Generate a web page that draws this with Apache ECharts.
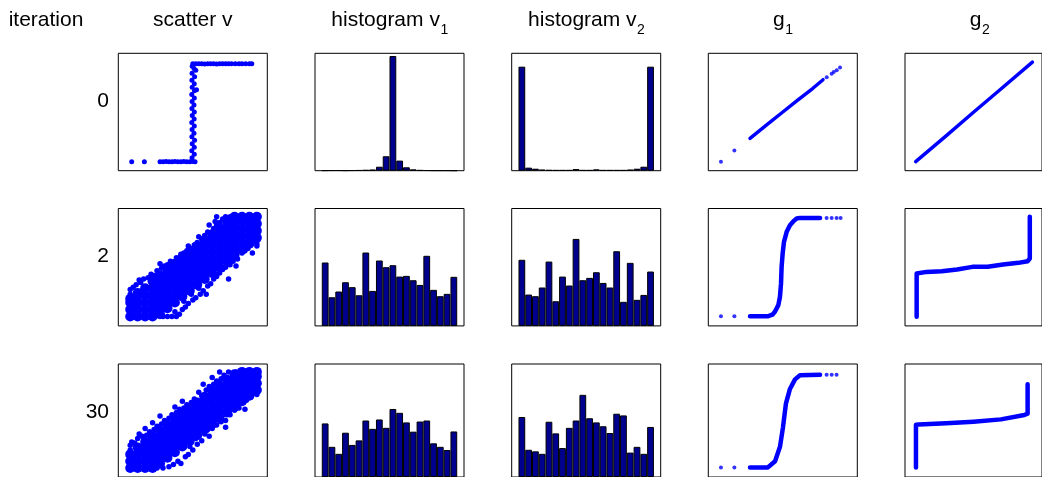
<!DOCTYPE html>
<html><head><meta charset="utf-8">
<script src="https://cdn.jsdelivr.net/npm/echarts@6/dist/echarts.min.js"></script>
<style>html,body{margin:0;padding:0;background:#fff}#c{width:1042px;height:477px}</style>
</head><body><div id="c"></div>
<script>
// ---------------- DATA ----------------
const columnTitles = [['scatter v',''],['histogram v','1'],['histogram v','2'],['g','1'],['g','2']];
const rowLabel = 'iteration';
const iterations = ['0','2','30'];
// histogram slots: one empty slot each side, 20 bins
const binLabels = ['', 'b1','b2','b3','b4','b5','b6','b7','b8','b9','b10','b11','b12','b13','b14','b15','b16','b17','b18','b19','b20', ''];

// scatter v (normalised panel units 0..100)
const scatterV_it0 = [
 [9,7.7],[17.5,7.7],
 [28,7.7],[30,7.7],[32,7.9],[34,7.7],[36,7.6],[38,7.8],[40,7.7],[42,7.7],[44,7.9],[46,7.7],[48,7.6],[50,7.8],[51.5,7.7],
 [49.5,11],[51,14],[49.3,17],[51,20],[49.6,23],[51.2,26],[49.4,29],[50.8,32],[49.5,35],[51,38],[49.3,41],[50.9,44],[49.6,47],
 [51,50],[49.4,53],[50.8,56],[49.5,59],[51,62],[49.3,65],[51.1,68],[52.5,69],[49.6,71],[51,74],[49.4,77],[51.2,80],[49.5,83],
 [52,85.5],[50.8,87],[49.6,89],
 [50,91],[52,91],[54,91.2],[56,91],[58,90.8],[60,91],[62,91.1],[64,91],[66,90.9],[68,91],[70,91.1],[72,91],[74,91],[76,91],
 [78.5,91],[81,91],[83,91],[85.5,91],[88,91],[89.6,91]
];
// iteration 2: dense core of the cloud and its scattered fringe
const scatterV_it2_core = [
 [8,8],[8,14],[8,20],[8,23],
 [13,8],[13,14],[13,20],[13,26],[13,28],
 [18,8],[18,14],[18,20],[18,26],[18,32],
 [23,8],[23,14],[23,20],[23,26],[23,32],[23,38],
 [28,10],[28,16],[28,22],[28,28],[28,34],[28,40],[28,43],
 [33,15],[33,21],[33,27],[33,33],[33,39],[33,45],[33,48],
 [38,20],[38,26],[38,32],[38,38],[38,44],[38,50],[38,53],
 [43,25],[43,31],[43,37],[43,43],[43,49],[43,55],[43,58],
 [48,30],[48,36],[48,42],[48,48],[48,54],[48,60],[48,63],
 [53,35],[53,41],[53,47],[53,53],[53,59],[53,65],[53,68],
 [58,40],[58,46],[58,52],[58,58],[58,64],[58,70],[58,73],
 [63,45],[63,51],[63,57],[63,63],[63,69],[63,75],[63,78],
 [68,50],[68,56],[68,62],[68,68],[68,74],[68,80],[68,83],
 [73,55],[73,61],[73,67],[73,73],[73,79],[73,85],[73,88],
 [78,60],[78,66],[78,72],[78,78],[78,84],[78,90],[78,93],
 [83,65],[83,71],[83,77],[83,83],[83,89],[83,93],
 [88,70],[88,76],[88,82],[88,88],[88,93],
 [93,75],[93,81],[93,87],[93,93]
];
const scatterV_it2_edge = [
 [8,27],[8,31],[10,33],[12,35],[15,37],[17,40],[14,39],[20,41],[22,44],[24,43],[26,47],[29,49],[31,51],[28,53],
 [33,52],[35,55],[37,54],[39,58],[41,57],[42,61],[44,62],[46,64],[47,68],[49,66],[51,69],[53,71],[54,76],[56,74],
 [58,77],[60,80],[62,79],[61,86],[64,83],[66,86],[65,89],[68,88],[70,91],[72,93],[66,93],[75,93],[80,93],[85,93],[90,93],
 [30,8],[33,8],[36,8],[39,8],[41,10],[38,12],[43,14],[45,16],[47,19],[44,21],[50,22],[52,24],[49,27],[55,27],
 [57,30],[54,32],[59,27],[60,34],[62,36],[64,40],[66,42],[68,45],[70,48],[72,50],[74,40],[75,52],[77,55],[80,57],
 [79,51],[83,62],[85,64],[87,66],[90,62],[89,70],[92,72],[93,68],[93,70]
];
// iteration 30
const scatterV_it30_core = [
 [8,8],[8,14],[8,20],
 [13,8],[13,14],[13,20],[13,26],
 [18,8],[18,14],[18,20],[18,26],[18,31],
 [23,8],[23,14],[23,20],[23,26],[23,32],[23,36],
 [28,12],[28,18],[28,24],[28,30],[28,36],[28,41],
 [33,17],[33,23],[33,29],[33,35],[33,41],[33,46],
 [38,22],[38,28],[38,34],[38,40],[38,46],[38,51],
 [43,27],[43,33],[43,39],[43,45],[43,51],[43,56],
 [48,32],[48,38],[48,44],[48,50],[48,56],[48,61],
 [53,37],[53,43],[53,49],[53,55],[53,61],[53,66],
 [58,42],[58,48],[58,54],[58,60],[58,66],[58,71],
 [63,47],[63,53],[63,59],[63,65],[63,71],[63,76],
 [68,52],[68,58],[68,64],[68,70],[68,76],[68,81],
 [73,57],[73,63],[73,69],[73,75],[73,81],[73,86],
 [78,62],[78,68],[78,74],[78,80],[78,86],[78,91],
 [83,67],[83,73],[83,79],[83,85],[83,91],[83,93],
 [88,72],[88,78],[88,84],[88,90],[88,93],
 [93,77],[93,83],[93,89],[93,93]
];
const scatterV_it30_edge = [
 [8,24],[8,28],[9,31],[11,30],[13,34],[16,36],[14,38],[19,37],[21,40],[18,43],[24,42],[26,45],[23,48],[29,47],
 [31,50],[28,54],[34,52],[36,55],[39,57],[41,60],[38,62],[44,61],[46,64],[43,67],[49,66],[51,69],[56,72],[54,75],
 [59,77],[61,80],[57,82],[64,82],[66,85],[63,88],[69,87],[71,90],[68,93],[74,93],[79,93],[84,93],[89,93],
 [26,8],[30,8],[34,9],[37,11],[40,14],[42,12],[45,18],[47,20],[50,24],[48,27],[53,29],[56,32],[52,34],[58,38],
 [61,36],[60,42],[63,43],[66,46],[69,49],[67,52],[72,50],[75,55],[74,58],[78,59],[81,61],[80,64],[84,66],[86,68],
 [89,71],[88,74],[91,74],[93,73],[93,76],[72,44],[85,60]
];

// histograms (bar heights, % of panel height)
const histV1_it0  = [0.2,0.3,0.3,0.2,0.3,0.4,0.6,0.9,3.4,12.3,97.7,8.6,2.9,1.1,0.5,0.3,0.2,0.2,0.2,0.1];
const histV1_it2  = [54.0,24.4,29.3,37.2,33.0,26.1,62.5,29.8,55.7,50.0,51.7,42.0,42.6,38.9,34.9,59.7,30.7,25.3,27.3,41.8];
const histV1_it30 = [47.4,26.7,20.5,39.2,28.4,32.4,50.0,42.6,50.9,43.5,60.2,56.8,48.3,40.1,49.1,50.0,29.8,26.7,23.9,40.3];
const histV2_it0  = [88.6,2.6,1.7,0.9,0.6,0.5,0.5,0.5,1.4,0.5,0.5,1.1,0.5,0.5,0.5,0.5,0.9,1.7,3.4,88.6];
const histV2_it2  = [56.3,26.7,25.3,32.7,54.8,21.0,42.0,34.4,74.1,38.9,40.9,45.7,36.6,32.7,63.6,20.5,53.7,22.2,26.4,46.3];
const histV2_it30 = [53.1,24.1,22.7,20.5,48.9,38.6,25.6,43.5,50.0,72.7,52.0,48.3,44.9,38.9,56.0,54.5,21.6,26.7,20.5,44.3];

// g curves (dense part drawn as line) and isolated points
const g1Curve_it0  = [[28,27.6],[40,39.8],[50,50],[60,60.2],[70,70],[77,77.5]];
const g1Dots_it0   = [[8.5,7.7],[17.5,17.1],[79.5,79.7],[82.8,82.6],[84.2,84],[86.2,85.5],[88.4,87.8]];
const g2Curve_it0  = [[7.8,7.7],[30,29.6],[50,49.8],[70,69.6],[93,92.5]];
const g2Dots_it0   = [];
const g1Curve_it2  = [[28,8.3],[40.3,8.3],[43,9.5],[44.7,12],[47,17.7],[48.1,24.8],[48.8,36],[49.2,50.3],[49.9,61.7],[50.8,71.6],[52.6,80.1],[54.8,85.8],[57,89],[59.3,91.5],[61.5,92],[75,92]];
const g1Dots_it2   = [[8.5,8.3],[17.5,8.3],[79.4,92],[82.8,92],[86.1,92],[88.8,92]];
const g2Curve_it2  = [[8.5,7.7],[8.5,44.6],[9.5,46],[15.7,46],[26.8,46.6],[38,48],[49.2,50.3],[60.4,50.3],[71.6,52.3],[82.8,53.7],[89.5,55.1],[91.1,57.4],[91.1,92.9]];
const g2Dots_it2   = [];
const g1Curve_it30 = [[28,8.5],[40,8.5],[44.8,14],[48.1,26.7],[50.1,43.8],[52.1,65],[54.8,77.9],[58.2,86.4],[61.5,90],[75,90.5]];
const g1Dots_it30  = [[8.5,8.5],[17.5,8.5],[79.4,90.5],[82.8,90.5],[86.1,90.5]];
const g2Curve_it30 = [[8,8.3],[8,46.3],[10,46.5],[30,47.5],[50,49],[70,51],[87.2,54.9],[89.5,56],[89.5,82]];
const g2Dots_it30  = [];

// ---------------- LAYOUT ----------------
const colLeft = [118.3, 315, 511.7, 708.3, 905];
const rowTop = [53.3, 208.5, 364];
const PW = 149, PH = 117.4;
const FONT = '"Liberation Sans", Arial, Helvetica, sans-serif';
const mainSize = 21, subSize = 14;
const BLUE = '#0000ff', NAVY = '#00008f';

const rows = [
  {scatter: [[scatterV_it0, 5]], h1: histV1_it0, h2: histV2_it0, g1c: g1Curve_it0, g1d: g1Dots_it0, g2c: g2Curve_it0, g2d: g2Dots_it0, lw: 3.5},
  {scatter: [[scatterV_it2_core, 10], [scatterV_it2_edge, 5.5]], h1: histV1_it2, h2: histV2_it2, g1c: g1Curve_it2, g1d: g1Dots_it2, g2c: g2Curve_it2, g2d: g2Dots_it2, lw: 4.5},
  {scatter: [[scatterV_it30_core, 10], [scatterV_it30_edge, 5.5]], h1: histV1_it30, h2: histV2_it30, g1c: g1Curve_it30, g1d: g1Dots_it30, g2c: g2Curve_it30, g2d: g2Dots_it30, lw: 4.5}
];

const grid = [], xAxis = [], yAxis = [], series = [];
let gi = 0;
function addGrid(r, c, cat) {
  grid.push({left: colLeft[c], top: rowTop[r], width: PW, height: PH, show: true,
    borderColor: '#000', borderWidth: 1, backgroundColor: '#fff', containLabel: false});
  if (cat) {
    xAxis.push({gridIndex: gi, type: 'category', data: binLabels, show: false, boundaryGap: true});
  } else {
    xAxis.push({gridIndex: gi, type: 'value', min: 0, max: 100, show: false});
  }
  yAxis.push({gridIndex: gi, type: 'value', min: 0, max: 100, show: false});
  return gi++;
}
function padBins(v) { return ['-'].concat(v, ['-']); }

rows.forEach((d, r) => {
  let g = addGrid(r, 0, false);
  d.scatter.forEach(([pts, size]) => {
    series.push({type: 'scatter', xAxisIndex: g, yAxisIndex: g, data: pts, symbolSize: size,
      itemStyle: {color: BLUE, opacity: 1}, silent: true, clip: true});
  });
  [d.h1, d.h2].forEach((h, k) => {
    g = addGrid(r, 1 + k, true);
    series.push({type: 'bar', xAxisIndex: g, yAxisIndex: g, data: padBins(h), barCategoryGap: '0%',
      itemStyle: {color: NAVY, borderColor: '#000', borderWidth: 1}, silent: true});
  });
  [[d.g1c, d.g1d], [d.g2c, d.g2d]].forEach((gc, k) => {
    g = addGrid(r, 3 + k, false);
    series.push({type: 'line', xAxisIndex: g, yAxisIndex: g, data: gc[0], symbol: 'none', showSymbol: false,
      lineStyle: {color: BLUE, width: d.lw, cap: 'round', join: 'round'}, silent: true});
    if (gc[1].length) series.push({type: 'scatter', xAxisIndex: g, yAxisIndex: g, data: gc[1], symbolSize: 4,
      itemStyle: {color: BLUE}, silent: true});
  });
});

// ---------------- TEXT ----------------
const mctx = document.createElement('canvas').getContext('2d');
function tw(t, size) { mctx.font = size + 'px ' + FONT; return mctx.measureText(t).width; }
const graphic = [];
const titleY = 20;
graphic.push({type: 'text', x: 46, y: titleY, style: {text: rowLabel, font: mainSize + 'px ' + FONT, fill: '#000',
  textAlign: 'center', textVerticalAlign: 'middle', align: 'center', verticalAlign: 'middle'}});
columnTitles.forEach((t, c) => {
  const cx = colLeft[c] + PW / 2;
  const w1 = tw(t[0], mainSize), w2 = t[1] ? tw(t[1], subSize) : 0;
  const x0 = cx - (w1 + w2) / 2;
  graphic.push({type: 'text', x: x0, y: titleY, style: {text: t[0], font: mainSize + 'px ' + FONT, fill: '#000',
    textAlign: 'left', textVerticalAlign: 'middle', align: 'left', verticalAlign: 'middle'}});
  if (t[1]) graphic.push({type: 'text', x: x0 + w1 + 0.5, y: titleY + 10, style: {text: t[1], font: subSize + 'px ' + FONT, fill: '#000',
    textAlign: 'left', textVerticalAlign: 'middle', align: 'left', verticalAlign: 'middle'}});
});
iterations.forEach((it, r) => {
  graphic.push({type: 'text', x: 109, y: rowTop[r] + 48, style: {text: it, font: mainSize + 'px ' + FONT, fill: '#000',
    textAlign: 'right', textVerticalAlign: 'middle', align: 'right', verticalAlign: 'middle'}});
});

const chart = echarts.init(document.getElementById('c'), null, {renderer: 'canvas'});
chart.setOption({animation: false, backgroundColor: '#fff', grid, xAxis, yAxis, series, graphic});
</script></body></html>
